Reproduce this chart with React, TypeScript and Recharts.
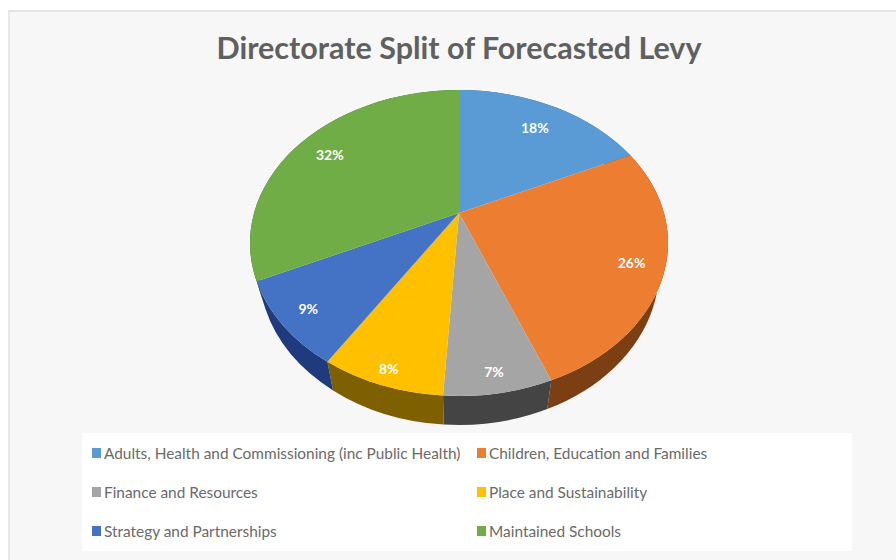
import React from "react";
import { PieChart, Pie, Legend } from "recharts";

const categories = [
  "Adults, Health and Commissioning (inc Public Health)",
  "Children, Education and Families",
  "Finance and Resources",
  "Place and Sustainability",
  "Strategy and Partnerships",
  "Maintained Schools",
];
const shares = [18, 26, 7, 8, 9, 32];
const topColors = ["#5b9bd5", "#ed7d31", "#a5a5a5", "#ffc000", "#4472c4", "#70ad47"];
const wallColors = ["#2e5f8c", "#7c3f14", "#444444", "#7f6000", "#1f3a7d", "#3f6627"];

const slices = categories.map((name, i) => ({
  name,
  value: shares[i],
  fill: topColors[i],
  wall: wallColors[i],
}));

const WIDTH = 896;
const HEIGHT = 560;
const CX = 459;
const CY = 243;
const RX = 209;
const RY = 153;
// tilt moves the pie's centre up inside its rim, like a perspective view
const TILT = -0.196;
const BASE = { cx: 459, cy: 270, rx: 200, ry: 155 };
// how far out each percentage sits along its slice
const LABEL_REACH = [0.78, 0.85, 0.9, 0.92, 0.87, 0.81];

// angle in recharts degrees -> point on the unit rim after the tilt
const project = (deg: number, r = 1) => {
  const rad = (deg * Math.PI) / 180;
  const x = r * Math.cos(rad);
  const y = -r * Math.sin(rad);
  const d = 1 + TILT * y;
  return { x: (x * Math.sqrt(1 - TILT * TILT)) / d, y: (y + TILT) / d };
};

const isLargeArc = (a: { x: number; y: number }, b: { x: number; y: number }) => {
  const pa = Math.atan2(a.x, -a.y);
  const pb = Math.atan2(b.x, -b.y);
  const diff = (pb - pa + Math.PI * 2) % (Math.PI * 2);
  return diff > Math.PI ? 1 : 0;
};

const TopSlice = (props: any) => {
  const { cx, cy, outerRadius, startAngle, endAngle, fill } = props;
  const ry = (outerRadius * RY) / RX;
  const a = project(startAngle);
  const b = project(endAngle);
  const apex = project(0, 0);
  const d =
    `M${cx + apex.x * outerRadius},${cy + apex.y * ry}` +
    `L${cx + a.x * outerRadius},${cy + a.y * ry}` +
    `A${outerRadius},${ry} 0 ${isLargeArc(a, b)} 1 ${cx + b.x * outerRadius},${cy + b.y * ry}Z`;
  return <path d={d} fill={fill} />;
};

const WallSlice = (props: any) => {
  const { cx, cy, outerRadius, startAngle, endAngle, payload } = props;
  const ry = (outerRadius * RY) / RX;
  const a = project(startAngle);
  const b = project(endAngle);
  const large = isLargeArc(a, b);
  const d =
    `M${cx + a.x * outerRadius},${cy + a.y * ry}` +
    `A${outerRadius},${ry} 0 ${large} 1 ${cx + b.x * outerRadius},${cy + b.y * ry}` +
    `L${BASE.cx + b.x * BASE.rx},${BASE.cy + b.y * BASE.ry}` +
    `A${BASE.rx},${BASE.ry} 0 ${large} 0 ${BASE.cx + a.x * BASE.rx},${BASE.cy + a.y * BASE.ry}Z`;
  return <path d={d} fill={payload.wall} />;
};

const renderLabel = (props: any) => {
  const { cx, cy, outerRadius, midAngle, percent, index } = props;
  const ry = (outerRadius * RY) / RX;
  const p = project(midAngle, LABEL_REACH[index]);
  return (
    <text
      x={cx + p.x * outerRadius}
      y={cy + p.y * ry}
      fill="#ffffff"
      fontSize={14}
      fontWeight={700}
      textAnchor="middle"
      dominantBaseline="central"
      fontFamily="Lato, sans-serif"
    >
      {`${Math.round(percent * 100)}%`}
    </text>
  );
};

// both pies feed the legend, so each category is listed once
const LegendRows = ({ payload }: any) => {
  const seen = new Set<string>();
  const rows = (payload || []).filter((entry: any) => {
    if (seen.has(entry.value)) return false;
    seen.add(entry.value);
    return true;
  });
  return (
    <div style={{ display: "grid", gridTemplateColumns: "385px 1fr", paddingLeft: 10 }}>
      {rows.map((entry: any) => (
        <div
          key={entry.value}
          style={{ display: "flex", alignItems: "center", height: 39, color: "#6a6a6a", fontSize: 15.4, whiteSpace: "nowrap" }}
        >
          <span style={{ width: 9, height: 10, marginRight: 3, background: entry.color }} />
          {entry.value}
        </div>
      ))}
    </div>
  );
};

export default function App() {
  return (
    <div style={{ position: "absolute", left: 0, top: 0, width: WIDTH, height: HEIGHT, background: "#ffffff", fontFamily: "Lato, sans-serif" }}>
      <div style={{ position: "absolute", left: 8, top: 10, right: 0, bottom: 0, background: "#f7f7f7", borderTop: "2px solid #e4e4e4", borderLeft: "2px solid #e8e8e8" }} />
      <div style={{ position: "absolute", left: 0, width: 918, top: 29, textAlign: "center", fontSize: 30.5, fontWeight: 700, color: "#606060" }}>
        Directorate Split of Forecasted Levy
      </div>
      <div style={{ position: "absolute", left: 0, top: 0 }}>
        <PieChart width={WIDTH} height={HEIGHT} margin={{ top: 0, right: 0, bottom: 0, left: 0 }}>
          <Pie
            data={slices}
            dataKey="value"
            nameKey="name"
            cx={CX}
            cy={CY}
            outerRadius={RX}
            startAngle={90}
            endAngle={-270}
            stroke="none"
            legendType="none"
            shape={WallSlice}
            isAnimationActive={false}
          />
          <Pie
            data={slices}
            dataKey="value"
            nameKey="name"
            cx={CX}
            cy={CY}
            outerRadius={RX}
            startAngle={90}
            endAngle={-270}
            stroke="none"
            shape={TopSlice}
            label={renderLabel}
            labelLine={false}
            isAnimationActive={false}
          />
          <Legend
            content={<LegendRows />}
            itemSorter={null}
            wrapperStyle={{ left: 82, top: 433, bottom: "auto", width: 770, height: 118, background: "#ffffff" }}
          />
        </PieChart>
      </div>
    </div>
  );
}
